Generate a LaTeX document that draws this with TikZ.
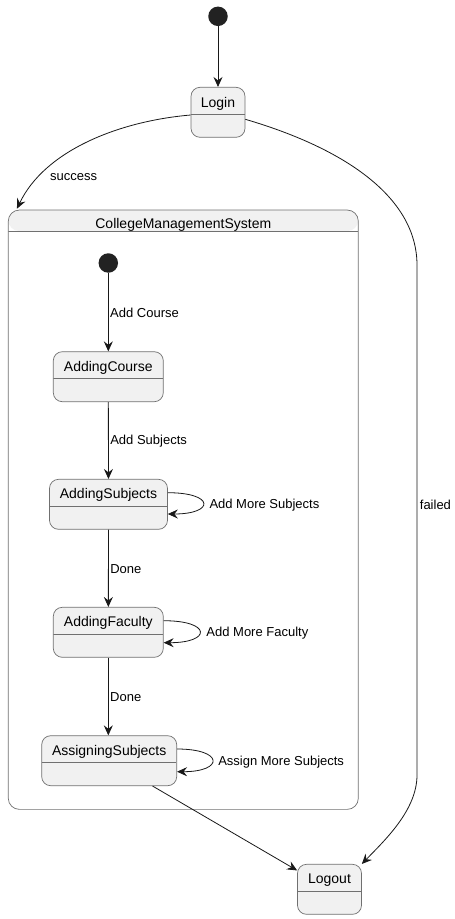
\documentclass[tikz,border=0pt]{standalone}
\usepackage{fontspec}
\setmainfont{Liberation Sans}
\usetikzlibrary{arrows.meta}
\definecolor{stfill}{HTML}{F1F1F1}
\definecolor{stline}{HTML}{707070}
\definecolor{arrline}{HTML}{181818}
\definecolor{dotfill}{HTML}{222222}

\tikzset{
  state/.style={draw=stline, fill=stfill, rounded corners=9pt, line width=0.7pt,
    inner sep=0pt, minimum height=50pt, font=\fontsize{14}{16}\selectfont,
    text height=19.5pt, text depth=30.5pt,
    path picture={\draw[stline, line width=0.7pt]
      ([yshift=-27pt]path picture bounding box.north west) --
      ([yshift=-27pt]path picture bounding box.north east);}},
  cstate/.style={draw=stline, fill=white, rounded corners=11pt, line width=0.7pt,
    inner sep=0pt, minimum width=350pt, font=\fontsize{14}{16}\selectfont,
    text height=18pt, text depth=581.3pt,
    path picture={\fill[stfill] (path picture bounding box.north west) rectangle
      ([yshift=-21pt]path picture bounding box.north east);
      \draw[stline, line width=0.7pt]
      ([yshift=-21pt]path picture bounding box.north west) --
      ([yshift=-21pt]path picture bounding box.north east);}},
  dot/.style={circle, fill=dotfill, draw=none, minimum size=19.5pt, inner sep=0pt},
  arr/.style={draw=arrline, line width=0.8pt, -{Stealth[length=10pt,width=9pt,inset=3.5pt]}},
  lbl/.style={font=\fontsize{13}{15}\selectfont, inner sep=0pt, text=black}
}

\begin{document}
\begin{tikzpicture}[x=1pt,y=-1pt]
  \useasboundingbox (0,0) rectangle (455,919);

  % Outer states
  \node[dot] (start) at (218,16.3) {};
  \node[state, minimum width=54pt, text height=20pt, text depth=30pt] (login) at (218,112.3) {Login};
  \node[cstate] (cms) at (183.3,509.7) {CollegeManagementSystem};
  \node[state, minimum width=64pt] (logout) at (329.5,889.3) {Logout};

  % Inner states
  \node[dot] (istart) at (108.3,263) {};
  \node[state, minimum width=110pt] (course) at (108.3,376.7) {AddingCourse};
  \node[state, minimum width=118pt] (subj) at (108.5,504.3) {AddingSubjects};
  \node[state, minimum width=110pt] (fac) at (108.3,632.3) {AddingFaculty};
  \node[state, minimum width=135pt] (assign) at (109.2,760.7) {AssigningSubjects};

  % Outer transitions
  \draw[arr] (start) -- (login);
  \draw[arr] ([yshift=-2.7pt]login.west) .. controls (120,121) and (45,150) .. ([xshift=9pt,yshift=1pt]cms.north west);
  \node[lbl, anchor=west] (succlbl) at (50,176.7) {success};
  \draw[arr] ([yshift=-7pt]login.east) .. controls (350,150) and (417,200) .. (417,265)
    -- (417,775) node[lbl, pos=0.47, anchor=west, xshift=2.5pt] (faillbl) {failed}
    .. controls (417,810) and (385,840) .. (logout.north east);
  \draw[arr] (assign) -- (logout);

  % Inner transitions
  \draw[arr] (istart) -- (course) node[lbl, midway, anchor=west, xshift=1.5pt, yshift=-1pt] (l1) {Add Course};
  \draw[arr] (course) -- (subj) node[lbl, midway, anchor=west, xshift=1.5pt, yshift=-1pt] (l2) {Add Subjects};
  \draw[arr] (subj) -- (fac) node[lbl, midway, anchor=west, xshift=1.5pt, yshift=-1pt] (l3) {Done};
  \draw[arr] (fac) -- (fac |- assign.north) node[lbl, midway, anchor=west, xshift=1.5pt, yshift=-1pt] (l4) {Done};

  % Self loops
  \draw[arr] ([yshift=11.6pt]subj.east) .. controls +(47,0) and +(47,0) .. ([yshift=-9.7pt]subj.east)
    node[lbl, pos=0.5, anchor=west, xshift=6pt, yshift=-1.5pt] (l5) {Add More Subjects};
  \draw[arr] ([yshift=11.6pt]fac.east) .. controls +(48,0) and +(48,0) .. ([yshift=-10.4pt]fac.east)
    node[lbl, pos=0.5, anchor=west, xshift=6.4pt, yshift=-1.5pt] (l6) {Add More Faculty};
  \draw[arr] ([yshift=11.7pt]assign.east) .. controls +(47,0) and +(47,0) .. ([yshift=-11pt]assign.east)
    node[lbl, pos=0.5, anchor=west, xshift=5.6pt, yshift=-1.5pt] (l7) {Assign More Subjects};
\end{tikzpicture}
\end{document}
